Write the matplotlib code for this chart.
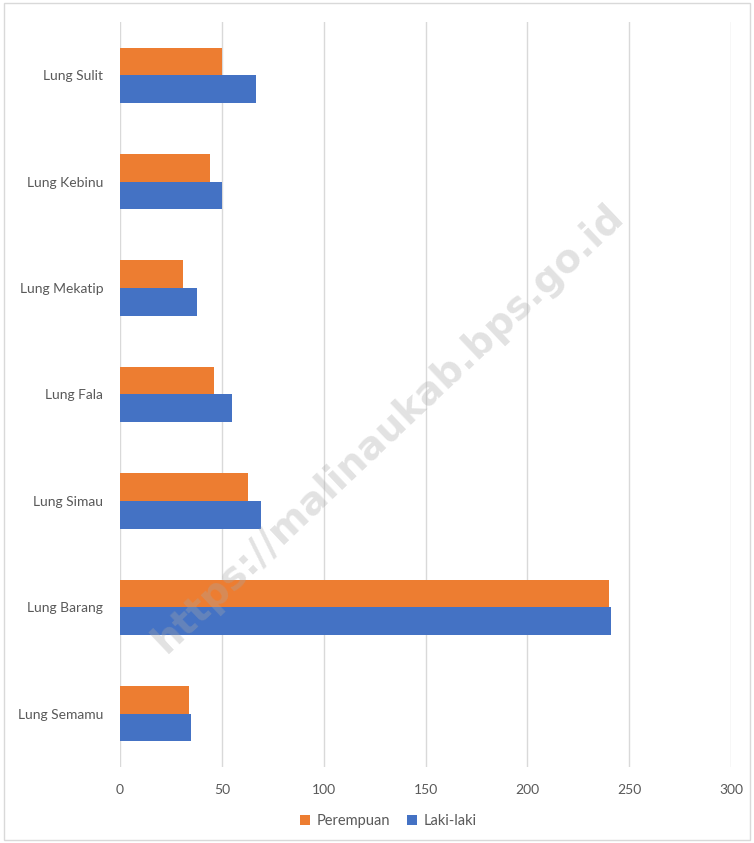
import matplotlib
matplotlib.use("Agg")
import matplotlib.pyplot as plt
import numpy as np
from matplotlib.patches import Rectangle

categories = ["Lung Semamu", "Lung Barang", "Lung Simau", "Lung Fala",
              "Lung Mekatip", "Lung Kebinu", "Lung Sulit"]
perempuan = [34, 240, 63, 46, 31, 44, 50]
laki_laki = [35, 241, 69, 55, 38, 50, 67]
xticks = [0, 50, 100, 150, 200, 250, 300]

plt.rcParams['font.family'] = ['Lato', 'DejaVu Sans']
text_col = "#595959"
orange = "#ED7D31"
blue = "#4472C4"

fig = plt.figure(figsize=(7.54, 8.43), dpi=100)
ax = fig.add_axes([120/754, 1-767/843, (731-120)/754, (767-22)/843])

y = np.arange(len(categories))
h = 0.26
ax.barh(y + h/2, perempuan, height=h, color=orange, label="Perempuan", zorder=2)
ax.barh(y - h/2, laki_laki, height=h, color=blue, label="Laki-laki", zorder=2)

ax.set_xlim(0, 300)
ax.set_ylim(-0.5, len(categories) - 0.5)
ax.set_xticks(xticks)
ax.set_xticklabels([str(t) for t in xticks])
ax.set_yticks(y)
ax.set_yticklabels(categories)
ax.tick_params(axis='both', length=0, labelsize=10, colors=text_col)
ax.tick_params(axis='x', pad=12)
ax.tick_params(axis='y', pad=12)
ax.grid(axis='x', color="#d9d9d9", linewidth=1.0, zorder=0)
for s in ax.spines.values():
    s.set_visible(False)

leg = fig.legend(loc="center", bbox_to_anchor=(0.515, 1-821/843), ncol=2, frameon=False,
                 fontsize=10.5, handlelength=0.7, handleheight=0.7, handletextpad=0.4,
                 columnspacing=1.2)
for t in leg.get_texts():
    t.set_color(text_col)

# outer chart border
fig.patches.append(Rectangle((4/754, 3/843), 746/754, 837/843, transform=fig.transFigure,
                             fill=False, edgecolor="#d9d9d9", linewidth=1.0))

# watermark
fig.text(388/754, 1-428/843, "https://malinaukab.bps.go.id", rotation=43.5,
         ha="center", va="center", fontsize=28, fontweight="bold",
         family="DejaVu Sans", color="#a8a8a8", alpha=0.33, zorder=10)

fig.savefig("out.png", dpi=100)
